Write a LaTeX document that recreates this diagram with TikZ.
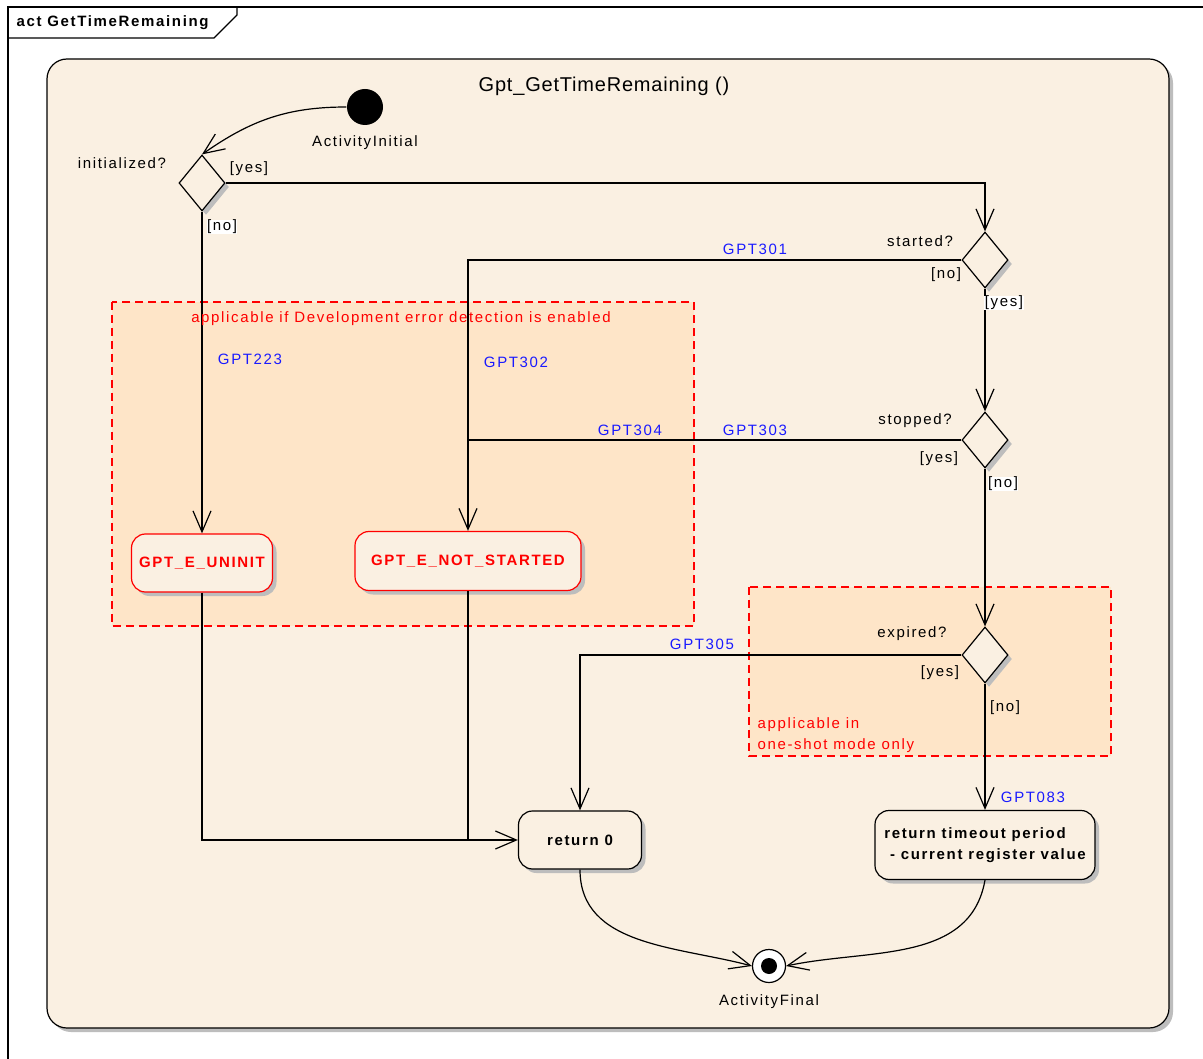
\documentclass[tikz,border=0pt]{standalone}
\usepackage{fontspec}
\setmainfont{Liberation Sans}
\newfontfamily\lblfont[LetterSpace=11]{Liberation Sans}
\newfontfamily\ttlfont[LetterSpace=4]{Liberation Sans}
\usetikzlibrary{shapes.geometric,arrows.meta,shadows}
\definecolor{bgbeige}{HTML}{FAF0E2}
\definecolor{peach}{HTML}{FEE5C8}
\definecolor{reqblue}{HTML}{1A1AFF}
\definecolor{shadowgray}{HTML}{BDBDBD}
\tikzset{
  lbl/.style={font=\lblfont\fontsize{15}{18}\selectfont, inner sep=1pt, yshift=-2pt},
  guardw/.style={lbl, fill=white, inner sep=0.5pt},
  req/.style={lbl, text=reqblue},
  note/.style={lbl, text=red},
  sh/.style={drop shadow={shadow xshift=4pt, shadow yshift=-4pt, fill=shadowgray, opacity=1}},
  dec/.style={diamond, draw, fill=bgbeige, minimum width=46pt, minimum height=56pt, inner sep=0pt, sh},
  actbox/.style={rectangle, rounded corners=14pt, draw, fill=bgbeige, inner sep=0pt, sh,
     font=\lblfont\bfseries\fontsize{15}{21}\selectfont},
  errbox/.style={actbox, draw=red, text=red},
  dashbox/.style={draw=red, fill=peach, dash pattern=on 8pt off 5pt, line width=1.2pt},
  flow/.style={->},
}
\begin{document}
\begin{tikzpicture}[x=1pt, y=-1pt, line width=1.2pt, >={Straight Barb[length=21pt,width=18pt]}]
\useasboundingbox (0,0) rectangle (1203,1059);
\clip (0,0) rectangle (1203,1059);
\fill[white] (0,0) rectangle (1203,1059);
% outer frame
\draw (8,1080) -- (8,7) -- (1220,7);
\draw (8,38) -- (214,38) -- (237,15) -- (237,7);
\node[anchor=west, font=\lblfont\bfseries\fontsize{15}{18}\selectfont, inner sep=0pt] (frametitle) at (16,23) {act GetTimeRemaining};
% activity region
\fill[shadowgray, rounded corners=20pt] (51,63) rectangle (1173,1032);
\draw[fill=bgbeige, rounded corners=20pt] (47,59) rectangle (1169,1028);
\node[font=\ttlfont\fontsize{20}{24}\selectfont] (acttitle) at (604,86) {Gpt\_GetTimeRemaining ()};
% dashed regions
\draw[dashbox] (112,302) rectangle (694,626);
\draw[dashbox] (749,587) rectangle (1111,756);
% nodes
\node[circle, fill=black, minimum size=36pt, inner sep=0pt] (ini) at (365,107) {};
\node[dec] (d1) at (202,183) {};
\node[dec] (d2) at (985,260) {};
\node[dec] (d3) at (985,440) {};
\node[dec] (d4) at (985,655) {};
\node[errbox, minimum width=141pt, minimum height=58pt] (uninit) at (202,563) {GPT\_E\_UNINIT};
\node[errbox, minimum width=226pt, minimum height=59pt] (nstart) at (468,561) {GPT\_E\_NOT\_STARTED};
\node[actbox, minimum width=123pt, minimum height=58pt] (ret0) at (580,840) {return 0};
\node[actbox, minimum width=220pt, minimum height=69pt, align=left] (rett) at (985,845) {return timeout period\\\ - current register value};
\node[circle, draw, fill=white, minimum size=33pt, inner sep=0pt] (fin) at (769,966) {};
\node[circle, fill=black, minimum size=16pt, inner sep=0pt] (findot) at (fin.center) {};
% connectors
\draw[flow] (ini.west) to[out=180, in=35] (d1.north);
\draw[flow] (d1.east) -| (d2.north);
\draw[flow] (d2.west) -| (nstart.north);
\draw[flow] (d2.south) -- (d3.north);
\draw (d3.west) -- (d3.west -| nstart.north);
\draw[flow] (d3.south) -- (d4.north);
\draw[flow] (d4.west) -| (ret0.north);
\draw[flow] (d4.south) -- (rett.north);
\draw[flow] (d1.south) -- (uninit.north);
\draw[flow] (uninit.south) |- (ret0.west);
\draw (nstart.south) -- (nstart.south |- ret0.west);
\draw[flow] (ret0.south) to[out=-90, in=165] (fin.west);
\draw[flow] (rett.south) to[out=-100, in=12] (fin.east);
% labels
\node[lbl] (l-ini) at (365,141) {ActivityInitial};
\node[lbl] (l-fin) at (769,1000) {ActivityFinal};
\node[lbl] (l-d1) at (122,161) {initialized?};
\node[lbl] (l-d1y) at (249,167) {[yes]};
\node[guardw] (l-d1n) at (222,225) {[no]};
\node[lbl] (l-d2) at (920,239) {started?};
\node[lbl] (l-d2n) at (946,273) {[no]};
\node[guardw] (l-d2y) at (1004,301) {[yes]};
\node[lbl] (l-d3) at (915,419) {stopped?};
\node[lbl] (l-d3y) at (939,457) {[yes]};
\node[guardw] (l-d3n) at (1003,482) {[no]};
\node[lbl] (l-d4) at (912,632) {expired?};
\node[lbl] (l-d4y) at (940,671) {[yes]};
\node[lbl] (l-d4n) at (1005,706) {[no]};
\node[req] (r301) at (755,247) {GPT301};
\node[req] (r302) at (516,360) {GPT302};
\node[req] (r223) at (250,357) {GPT223};
\node[req] (r304) at (630,428) {GPT304};
\node[req] (r303) at (755,428) {GPT303};
\node[req] (r305) at (702,642) {GPT305};
\node[req] (r083) at (1033,795) {GPT083};
\node[note] (n-dev) at (401,317) {applicable if Development error detection is enabled};
\node[note, anchor=west] (n-os1) at (756,723) {applicable in};
\node[note, anchor=west] (n-os2) at (756,744) {one-shot mode only};
\end{tikzpicture}
\end{document}
